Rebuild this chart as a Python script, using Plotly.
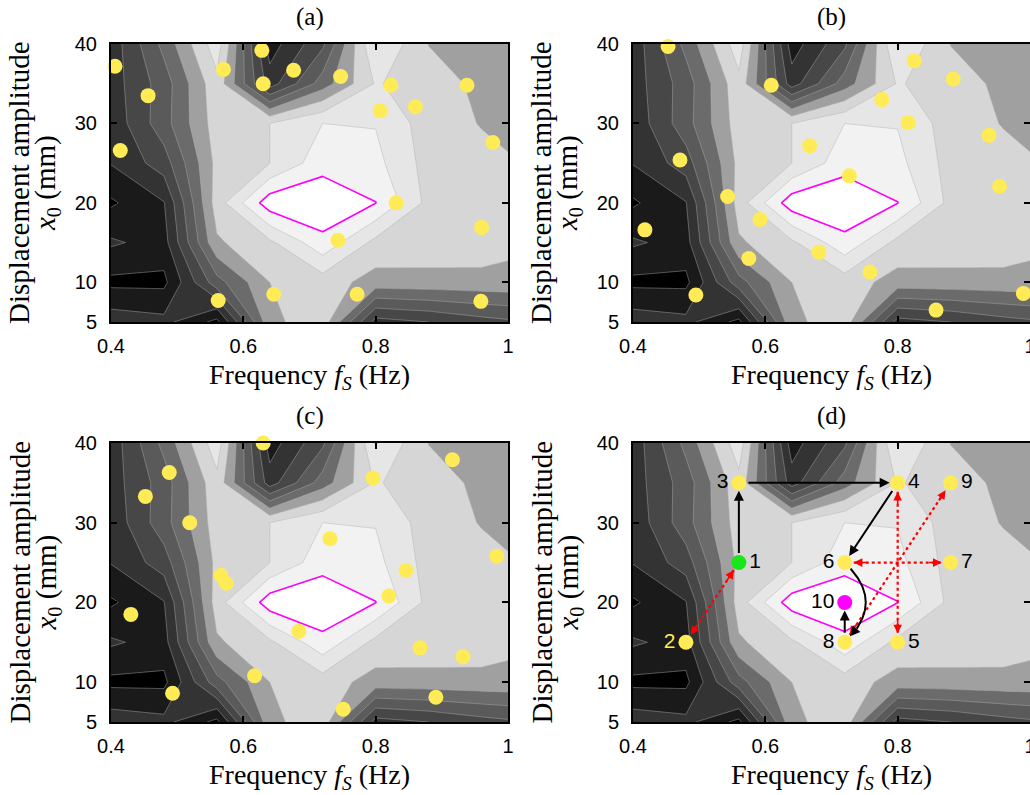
import numpy as np
import plotly.graph_objects as go

W, H = 1030, 795

# ---------------- data ----------------
# background map (same in all panels), grid in frequency (Hz) x amplitude (mm)
fs_grid = [0.40, 0.48, 0.56, 0.64, 0.72, 0.80, 0.88, 0.96, 1.04]
x0_grid = [5, 10, 15, 20, 25, 30, 35, 40]
score = [
    [2.60, 2.30, 0.70, 6.75, 7.60, 2.60, 3.00, 3.60, 4.00],   # 5 mm
    [0.75, 0.75, 4.60, 7.00, 7.50, 6.60, 6.65, 6.70, 6.75],   # 10
    [2.15, 1.60, 6.85, 7.80, 9.70, 7.70, 7.60, 7.50, 7.10],   # 15
    [0.85, 1.95, 7.50, 10.6, 10.8, 10.02, 7.70, 7.50, 6.70],  # 20
    [2.05, 3.50, 7.30, 8.00, 9.60, 9.30, 7.60, 7.30, 6.90],   # 25
    [2.30, 4.60, 7.50, 8.00, 9.00, 8.95, 7.50, 6.95, 6.75],   # 30
    [2.50, 4.50, 7.70, 2.50, 5.50, 8.10, 7.40, 6.80, 6.60],   # 35
    [2.40, 5.30, 8.60, 1.50, 3.80, 9.10, 6.98, 6.75, 6.60],   # 40
]
band_colors = ["#000000", "#1a1a1a", "#333333", "#474747", "#5a5a5a", "#6b6b6b",
               "#a0a0a0", "#d6d6d6", "#e6e6e6", "#f2f2f2", "#ffffff"]

# panel (a)
a_fs = [0.406, 0.456, 0.414, 0.570, 0.628, 0.676, 0.630, 0.747, 0.823, 0.807,
        0.860, 0.938, 0.977, 0.831, 0.743, 0.960, 0.562, 0.646, 0.772, 0.959]
a_x0 = [37.2, 33.5, 26.6, 36.8, 39.2, 36.7, 35.0, 35.9, 34.8, 31.6,
        32.1, 34.8, 27.6, 20.0, 15.3, 16.9, 7.7, 8.5, 8.5, 7.6]
# panel (b)
b_fs = [0.453, 0.609, 0.825, 0.884, 0.776, 0.816, 0.938, 0.667, 0.471, 0.727,
        0.954, 0.543, 0.592, 0.418, 0.681, 0.575, 0.758, 0.495, 0.858, 0.990]
b_x0 = [39.7, 34.8, 37.9, 35.6, 33.0, 30.1, 28.5, 27.2, 25.4, 23.4,
        22.1, 20.8, 17.9, 16.6, 13.8, 13.0, 11.3, 8.4, 6.5, 8.6]
# panel (c)
c_fs = [0.630, 0.488, 0.452, 0.519, 0.796, 0.916, 0.731, 0.983, 0.846, 0.566,
        0.574, 0.820, 0.430, 0.684, 0.867, 0.932, 0.617, 0.493, 0.891, 0.751]
c_x0 = [40.0, 36.3, 33.3, 30.0, 35.6, 37.9, 28.0, 25.8, 24.0, 23.4,
        22.4, 20.8, 18.5, 16.4, 14.3, 13.2, 10.8, 8.6, 8.1, 6.6]
# panel (d): numbered search steps
d_fs = [0.56, 0.48, 0.56, 0.80, 0.80, 0.72, 0.88, 0.72, 0.88, 0.72]
d_x0 = [25, 15, 35, 35, 15, 25, 25, 15, 35, 20]
d_labels = ["1", "2", "3", "4", "5", "6", "7", "8", "9", "10"]
d_side = ["right", "left", "left", "right", "right", "left", "right", "left", "right", "left"]
black_steps = [(1, 3), (3, 4), (4, 6), (8, 10)]
black_curved = [(6, 8)]
red_pairs = [(1, 2), (4, 5), (6, 7), (8, 9)]

panel_titles = ["(a)", "(b)", "(c)", "(d)"]
x_ticks = [0.4, 0.6, 0.8, 1.0]
x_ticktext = ["0.4", "0.6", "0.8", "1"]
y_ticks = [5, 10, 20, 30, 40]
y_ticktext = ["5", "10", "20", "30", "40"]

# ---------------- style / layout ----------------
YELLOW = "#ffeb55"
GREEN = "#19e619"
MAGENTA = "#ff00ff"
SERIF = "Liberation Serif"
SANS = "Liberation Sans"
XR = [0.4, 1.0]
YR = [5, 40]

frames = {  # x_left, x_right, y_top, y_bottom (pixels)
    1: (111, 508, 44, 322),
    2: (633, 1030, 44, 322),
    3: (111, 508, 443, 722),
    4: (633, 1030, 443, 722),
}

cscale = []
for k in range(len(band_colors) - 1):
    hi = (k + 1) / 10 if k < len(band_colors) - 2 else 0.97
    cscale += [[k / 10, band_colors[k]], [hi, band_colors[k]]]
cscale += [[0.97, band_colors[-1]], [1.0, band_colors[-1]]]

fig = go.Figure()


def ax_names(i):
    return ("x" if i == 1 else f"x{i}"), ("y" if i == 1 else f"y{i}")


for i in range(1, 5):
    xa, ya = ax_names(i)
    fig.add_trace(go.Contour(
        x=fs_grid, y=x0_grid, z=score, xaxis=xa, yaxis=ya,
        autocontour=False,
        contours=dict(start=1, end=10, size=1, coloring="fill", showlines=True),
        colorscale=cscale, showscale=False,
        line=dict(color="rgba(175,175,175,0.9)", width=0.5, smoothing=0),
        hoverinfo="skip"))
    fig.add_trace(go.Contour(
        x=fs_grid, y=x0_grid, z=score, xaxis=xa, yaxis=ya,
        autocontour=False,
        contours=dict(start=10, end=10, size=1, coloring="none", showlines=True),
        showscale=False,
        line=dict(color=MAGENTA, width=1.6, smoothing=0),
        hoverinfo="skip"))

for i, (px_, py_) in zip([1, 2, 3], [(a_fs, a_x0), (b_fs, b_x0), (c_fs, c_x0)]):
    xa, ya = ax_names(i)
    fig.add_trace(go.Scatter(x=px_, y=py_, xaxis=xa, yaxis=ya, mode="markers",
                             marker=dict(size=15, color=YELLOW, line=dict(width=0)),
                             cliponaxis=False, hoverinfo="skip"))

# panel (d) geometry helpers
fx0, fx1, fyt, fyb = frames[4]
sx = (fx1 - fx0) / (XR[1] - XR[0])
sy = (fyb - fyt) / (YR[1] - YR[0])


def pt(n):
    return d_fs[n - 1], d_x0[n - 1]


R = 9  # px from dot centre where arrows stop
annotations = []

# red dotted double-headed arrows
for a, b in red_pairs:
    xa_, ya_ = pt(a)
    xb_, yb_ = pt(b)
    vx, vy = (xb_ - xa_) * sx, -(yb_ - ya_) * sy
    L = np.hypot(vx, vy)
    ux, uy = vx / L, vy / L
    sxs = [xa_ + ux * R / sx, xb_ - ux * R / sx]
    sys_ = [ya_ - uy * R / sy, yb_ + uy * R / sy]
    fig.add_trace(go.Scatter(x=sxs, y=sys_, xaxis="x4", yaxis="y4", mode="lines",
                             line=dict(color="#ff0000", width=2.2, dash="dot"),
                             hoverinfo="skip"))
    for hx, hy, sgn in [(xb_, yb_, -1), (xa_, ya_, 1)]:
        annotations.append(dict(
            x=hx, y=hy, xref="x4", yref="y4", text="", showarrow=True,
            ax=sgn * ux * (R + 14), ay=sgn * uy * (R + 14),
            standoff=R, arrowhead=2, arrowsize=1.15, arrowwidth=1.5,
            arrowcolor="#ff0000"))

# black straight arrows
for a, b in black_steps:
    xa_, ya_ = pt(a)
    xb_, yb_ = pt(b)
    annotations.append(dict(
        x=xb_, y=yb_, ax=xa_, ay=ya_, xref="x4", yref="y4", axref="x4", ayref="y4",
        text="", showarrow=True, standoff=8, startstandoff=8,
        arrowhead=2, arrowsize=1, arrowwidth=2, arrowcolor="black"))

# black curved arrow
BULGE = 42  # px to the right
for a, b in black_curved:
    xa_, ya_ = pt(a)
    xb_, yb_ = pt(b)
    p0 = np.array([0.0, 0.0])
    p2 = np.array([(xb_ - xa_) * sx, -(yb_ - ya_) * sy])
    ctrl = (p0 + p2) / 2 + np.array([BULGE, 0.0])
    t = np.linspace(0, 1, 200)[:, None]
    pts = (1 - t) ** 2 * p0 + 2 * (1 - t) * t * ctrl + t ** 2 * p2
    d0 = np.hypot(*(pts - p0).T)
    d2 = np.hypot(*(pts - p2).T)
    keep = (d0 >= 8) & (d2 >= 18)
    cx = xa_ + pts[keep, 0] / sx
    cy = ya_ - pts[keep, 1] / sy
    fig.add_trace(go.Scatter(x=cx, y=cy, xaxis="x4", yaxis="y4", mode="lines",
                             line=dict(color="black", width=2), hoverinfo="skip"))
    annotations.append(dict(
        x=xb_, y=yb_, ax=cx[-1], ay=cy[-1], xref="x4", yref="y4", axref="x4", ayref="y4",
        text="", showarrow=True, standoff=8, arrowhead=2, arrowsize=1, arrowwidth=2,
        arrowcolor="black"))

d_colors = [GREEN if l == "1" else MAGENTA if l == "10" else YELLOW for l in d_labels]
d_textcol = [YELLOW if l == "2" else "black" for l in d_labels]
fig.add_trace(go.Scatter(
    x=d_fs, y=d_x0, xaxis="x4", yaxis="y4", mode="markers+text",
    text=d_labels, textposition=["middle " + s for s in d_side],
    textfont=dict(family=SANS, size=21, color=d_textcol),
    marker=dict(size=15, color=d_colors, line=dict(width=0)),
    cliponaxis=False, hoverinfo="skip"))

layout = dict(width=W, height=H,
              margin=dict(l=0, r=0, t=0, b=0, pad=0, autoexpand=False),
              autosize=False,
              paper_bgcolor="white", plot_bgcolor="white", showlegend=False)

for i in range(1, 5):
    x_l, x_r, y_t, y_b = frames[i]
    xa, ya = ax_names(i)
    xkey = "xaxis" if i == 1 else f"xaxis{i}"
    ykey = "yaxis" if i == 1 else f"yaxis{i}"
    common = dict(ticks="inside", ticklen=6, tickwidth=1.5, tickcolor="black",
                  showline=True, linecolor="black", linewidth=2, mirror="ticks",
                  showgrid=False, zeroline=False, ticklabeloverflow="allow",
                  automargin=False,
                  tickfont=dict(family=SANS, size=20, color="black"))
    layout[xkey] = dict(domain=[x_l / W, x_r / W], range=XR, anchor=ya,
                        tickvals=x_ticks, ticktext=x_ticktext, ticklabelstandoff=5,
                        **common)
    layout[ykey] = dict(domain=[1 - y_b / H, 1 - y_t / H], range=YR, anchor=xa,
                        tickvals=y_ticks, ticktext=y_ticktext, ticklabelstandoff=8,
                        **common)
    cxp = (x_l + x_r) / 2
    cyp = (y_t + y_b) / 2
    annotations.append(dict(x=cxp / W, y=1 - (y_t - 27) / H, xref="paper", yref="paper",
                            text=panel_titles[i - 1], showarrow=False,
                            font=dict(family=SERIF, size=25, color="black"),
                            xanchor="center", yanchor="middle"))
    annotations.append(dict(x=cxp / W, y=1 - (y_b + 54) / H, xref="paper", yref="paper",
                            text="Frequency <i>f</i><sub><i>S</i></sub> (Hz)", showarrow=False,
                            font=dict(family=SERIF, size=28, color="black"),
                            xanchor="center", yanchor="middle"))
    annotations.append(dict(x=(x_l - 92) / W, y=1 - cyp / H, xref="paper", yref="paper",
                            text="Displacement amplitude", showarrow=False, textangle=-90,
                            font=dict(family=SERIF, size=29, color="black"),
                            xanchor="center", yanchor="middle"))
    annotations.append(dict(x=(x_l - 64) / W, y=1 - cyp / H, xref="paper", yref="paper",
                            text="<i>x</i><sub>0</sub> (mm)", showarrow=False, textangle=-90,
                            font=dict(family=SERIF, size=29, color="black"),
                            xanchor="center", yanchor="middle"))

layout["annotations"] = annotations
fig.update_layout(**layout)
fig.write_html("out.html")
